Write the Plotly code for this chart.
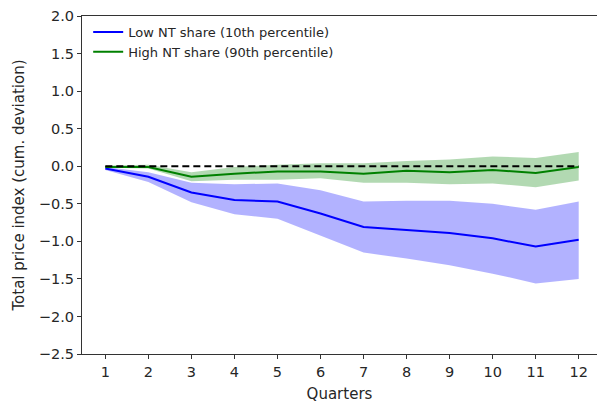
import plotly.graph_objects as go

quarters = list(range(1, 13))

low_mean = [-0.03, -0.14, -0.35, -0.45, -0.47, -0.63, -0.81, -0.85, -0.89, -0.96, -1.07, -0.98]
low_upper = [-0.01, -0.08, -0.22, -0.24, -0.23, -0.32, -0.47, -0.46, -0.46, -0.50, -0.58, -0.47]
low_lower = [-0.05, -0.21, -0.48, -0.64, -0.70, -0.93, -1.15, -1.23, -1.32, -1.43, -1.56, -1.50]

high_mean = [-0.01, -0.01, -0.14, -0.10, -0.07, -0.07, -0.10, -0.06, -0.08, -0.05, -0.09, -0.01]
high_upper = [0.01, 0.02, -0.08, -0.01, 0.02, 0.04, 0.04, 0.07, 0.09, 0.13, 0.11, 0.19]
high_lower = [-0.02, -0.03, -0.20, -0.18, -0.18, -0.16, -0.22, -0.22, -0.24, -0.23, -0.28, -0.19]

zero_line = [0.0] * 12

y_ticks = [2.0, 1.5, 1.0, 0.5, 0.0, -0.5, -1.0, -1.5, -2.0, -2.5]
y_tick_text = ["2.0", "1.5", "1.0", "0.5", "0.0", "\u22120.5", "\u22121.0", "\u22121.5", "\u22122.0", "\u22122.5"]

FONT = "DejaVu Sans"

fig = go.Figure()

# confidence bands
fig.add_trace(go.Scatter(x=quarters, y=low_lower, mode="lines", line=dict(width=0),
                         showlegend=False, hoverinfo="skip"))
fig.add_trace(go.Scatter(x=quarters, y=low_upper, mode="lines", line=dict(width=0),
                         fill="tonexty", fillcolor="rgba(0,0,255,0.3)",
                         showlegend=False, hoverinfo="skip"))
fig.add_trace(go.Scatter(x=quarters, y=high_lower, mode="lines", line=dict(width=0),
                         showlegend=False, hoverinfo="skip"))
fig.add_trace(go.Scatter(x=quarters, y=high_upper, mode="lines", line=dict(width=0),
                         fill="tonexty", fillcolor="rgba(0,128,0,0.3)",
                         showlegend=False, hoverinfo="skip"))

# mean lines
fig.add_trace(go.Scatter(x=quarters, y=low_mean, mode="lines",
                         line=dict(color="#0000ff", width=2),
                         name="Low NT share (10th percentile)"))
fig.add_trace(go.Scatter(x=quarters, y=high_mean, mode="lines",
                         line=dict(color="#008000", width=2),
                         name="High NT share (90th percentile)"))

# zero reference line
fig.add_trace(go.Scatter(x=quarters, y=zero_line, mode="lines",
                         line=dict(color="black", width=2, dash="7px,4px"),
                         showlegend=False, hoverinfo="skip"))

fig.update_layout(
    width=597, height=406,
    margin=dict(l=82, r=0, t=16, b=52),
    paper_bgcolor="white", plot_bgcolor="white",
    font=dict(family=FONT, size=14.5, color="#262626"),
    showlegend=True,
    legend=dict(x=0.012, y=0.997, xanchor="left", yanchor="top",
                bgcolor="rgba(255,255,255,0)", borderwidth=0,
                traceorder="normal",
                font=dict(family=FONT, size=13, color="#262626"),
                tracegroupgap=0, itemwidth=30),
)

fig.update_xaxes(
    range=[0.458, 12.425],
    tickmode="array", tickvals=quarters, ticktext=[str(q) for q in quarters],
    showline=True, linecolor="#333333", linewidth=1.2, mirror=True,
    ticks="outside", ticklen=4, tickcolor="#333333", tickwidth=1,
    showgrid=False, zeroline=False,
    title=dict(text="Quarters", font=dict(family=FONT, size=15), standoff=9),
    tickfont=dict(family=FONT, size=14.5),
)
fig.update_yaxes(
    range=[-2.5, 2.0],
    tickmode="array", tickvals=y_ticks, ticktext=y_tick_text,
    showline=True, linecolor="#333333", linewidth=1.2, mirror=False,
    ticks="outside", ticklen=4, tickcolor="#333333", tickwidth=1,
    showgrid=False, zeroline=False,
    title=dict(text="Total price index (cum. deviation)", font=dict(family=FONT, size=15), standoff=10),
    tickfont=dict(family=FONT, size=14.5),
)

fig.write_html("out.html")
